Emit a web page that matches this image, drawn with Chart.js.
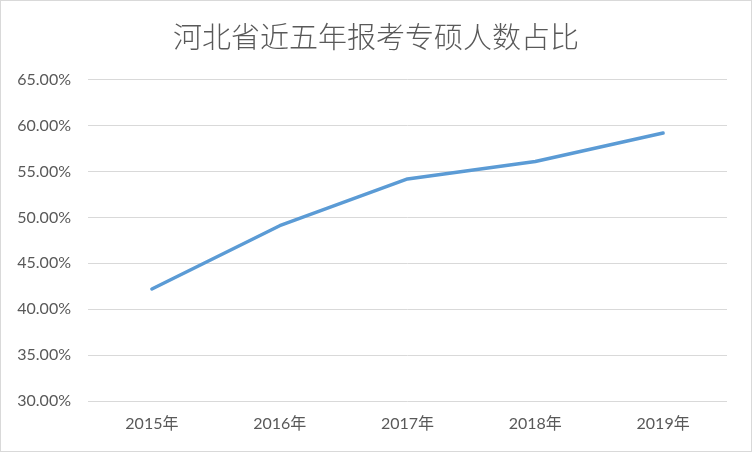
<!DOCTYPE html>
<html>
<head>
<meta charset="utf-8">
<script src="https://cdn.jsdelivr.net/npm/chart.js@4"></script>
<style>
  html, body { margin: 0; padding: 0; background: #fff; }
  #wrap { width: 752px; height: 452px; position: relative; }
</style>
</head>
<body>
<div id="wrap"><canvas id="trendChart" width="752" height="452"></canvas></div>
<script>
  // chart data
  const years = ['2015年', '2016年', '2017年', '2018年', '2019年'];
  const shares = [42.2, 49.1, 54.2, 56.1, 59.2];
  const yMin = 30;
  const yMax = 65;
  const yStep = 5;

  const fontFamily = "Lato, 'Noto Sans CJK SC', sans-serif";

  // white background + thin frame like the exported picture
  const framePlugin = {
    id: 'frame',
    beforeDraw(c) {
      const ctx = c.ctx;
      ctx.save();
      ctx.fillStyle = '#ffffff';
      ctx.fillRect(0, 0, c.width, c.height);
      ctx.strokeStyle = '#d9d9d9';
      ctx.lineWidth = 1;
      ctx.strokeRect(0.5, 0.5, c.width - 1, c.height - 1);
      ctx.restore();
    }
  };

  const ctx = document.getElementById('trendChart').getContext('2d');
  const chart = new Chart(ctx, {
    type: 'line',
    data: {
      labels: years,
      datasets: [{
        label: '占比',
        data: shares,
        yAxisID: 'y',
        borderColor: '#5b9bd5',
        borderWidth: 3.5,
        borderCapStyle: 'round',
        borderJoinStyle: 'round',
        pointRadius: 0,
        tension: 0,
        fill: false
      }]
    },
    options: {
      responsive: false,
      animation: false,
      layout: { padding: 0 },
      plugins: {
        legend: { display: false },
        tooltip: { enabled: false },
        title: {
          display: true,
          text: '河北省近五年报考专硕人数占比',
          color: '#595959',
          font: { family: "'Noto Sans CJK SC', sans-serif", size: 29, weight: '300' },
          padding: { top: 20, bottom: 25 }
        }
      },
      scales: {
        x: {
          offset: true,
          grid: { display: false, drawTicks: false, offset: true },
          border: { display: false },
          ticks: {
            color: '#595959',
            font: { family: fontFamily, size: 16 },
            padding: 13,
            maxRotation: 0
          },
          afterFit(scale) { scale.height = 51; }
        },
        y: {
          min: yMin,
          max: yMax,
          grid: { color: '#d9d9d9', lineWidth: 1, drawTicks: false },
          border: { display: false },
          ticks: {
            stepSize: yStep,
            color: '#595959',
            font: { family: fontFamily, size: 16 },
            padding: 17,
            callback: v => v.toFixed(2) + '%'
          },
          afterFit(scale) { scale.width = 88; }
        },
        // empty right axis, only reserves the right margin so the title stays centred
        yRight: {
          position: 'right',
          grid: { display: false, drawTicks: false },
          border: { display: false },
          ticks: { display: false },
          afterFit(scale) { scale.width = 25; }
        }
      }
    },
    plugins: [framePlugin]
  });
</script>
</body>
</html>
